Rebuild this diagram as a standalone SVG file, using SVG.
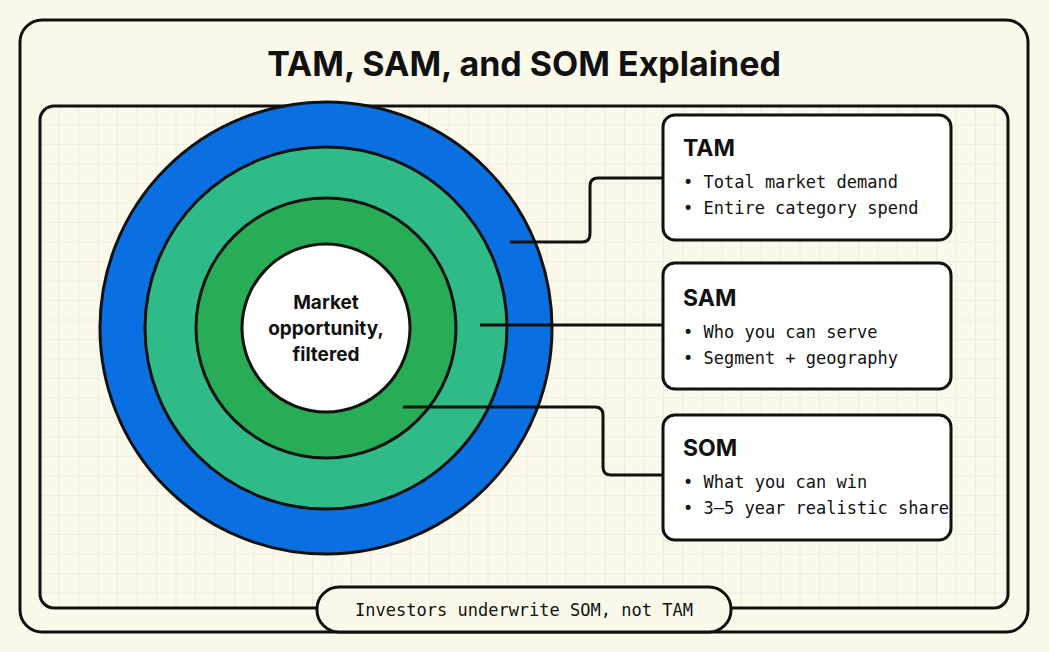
<svg xmlns="http://www.w3.org/2000/svg" width="1049" height="652" viewBox="0 0 1049 652">
<style>
.ln{fill:none;stroke:#111;stroke-width:3}
.box{fill:#fff;stroke:#111;stroke-width:3}
.h{font-family:"Inter","Liberation Sans",sans-serif;font-weight:700;fill:#111}
.m{font-family:"DejaVu Sans Mono","Liberation Mono",monospace;font-size:17px;fill:#111}
</style>
<defs>
<pattern id="g" width="19.5" height="19.5" patternUnits="userSpaceOnUse" x="40" y="106">
<path d="M19.5 0V19.5H0" fill="none" stroke="#e6e4d2" stroke-width="1.2"/>
</pattern>
</defs>
<rect width="1049" height="652" fill="#fbf9ea"/>
<rect x="20" y="20" width="1008" height="612" rx="22" class="ln" fill="#fbf9ea"/>
<text x="524" y="76" text-anchor="middle" class="h" font-size="34">TAM, SAM, and SOM Explained</text>
<rect x="40" y="106" width="968" height="502" rx="14" fill="url(#g)" stroke="#111" stroke-width="3"/>
<g id="circles" stroke="#111" stroke-width="3">
<circle cx="326" cy="328" r="226" fill="#0a6fe0"/>
<circle cx="326" cy="328" r="181" fill="#2fbb88"/>
<circle cx="326" cy="328" r="130" fill="#27ad55"/>
<circle cx="326" cy="328" r="84" fill="#fff"/>
<text x="326" y="309" text-anchor="middle" class="h" font-size="19" stroke="none"><tspan x="326">Market</tspan><tspan x="326" dy="26">opportunity,</tspan><tspan x="326" dy="26">filtered</tspan></text>
</g>
<g id="connectors" class="ln">
<path d="M510 242H582Q590 242 590 234V186Q590 178 598 178H663"/>
<path d="M480 325H663"/>
<path d="M403 407H595Q603 407 603 415V467Q603 475 611 475H663"/>
</g>
<g id="tam"><rect x="663" y="115" width="288" height="125" rx="12" class="box"/>
<text x="683" y="156" class="h" font-size="23">TAM</text>
<text x="683" y="188" class="m">• Total market demand</text><text x="683" y="214" class="m">• Entire category spend</text></g>
<g id="sam"><rect x="663" y="263" width="288" height="126" rx="12" class="box"/>
<text x="683" y="306" class="h" font-size="23">SAM</text>
<text x="683" y="338" class="m">• Who you can serve</text><text x="683" y="364" class="m">• Segment + geography</text></g>
<g id="som"><rect x="663" y="415" width="288" height="125" rx="12" class="box"/>
<text x="683" y="456" class="h" font-size="23">SOM</text>
<text x="683" y="488" class="m">• What you can win</text><text x="683" y="514" class="m">• 3–5 year realistic share</text></g>
<g id="note"><rect x="317" y="587" width="414" height="45" rx="22" fill="#fbf9ea" stroke="#111" stroke-width="3"/>
<text x="524" y="616" text-anchor="middle" class="m">Investors underwrite SOM, not TAM</text></g>
</svg>
